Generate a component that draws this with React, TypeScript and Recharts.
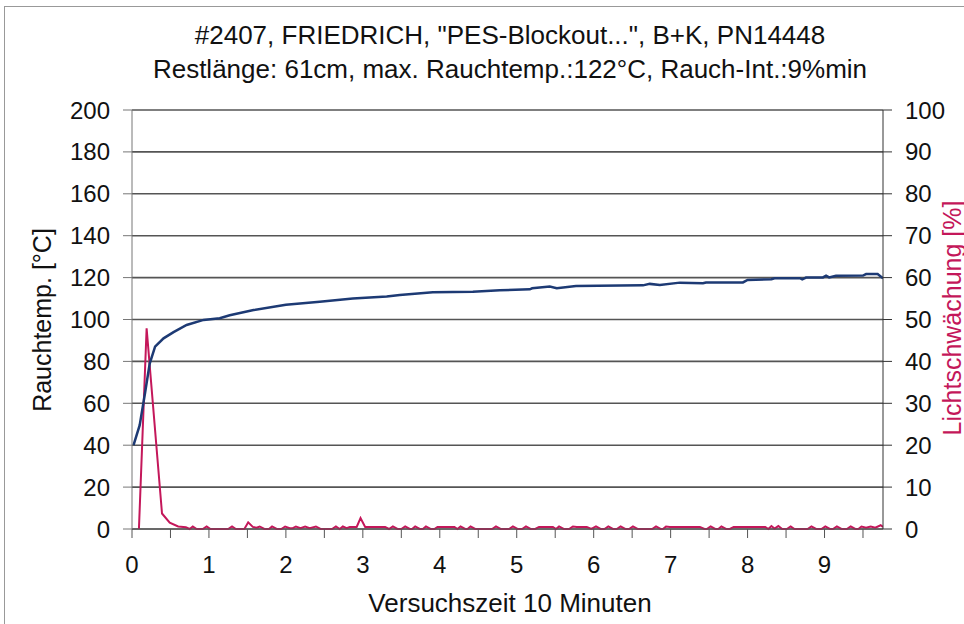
import React from "react";
import { LineChart, Line, CartesianGrid, XAxis, YAxis } from "recharts";

// Rauchtemperatur [°C] über Versuchszeit [min]
const tempTime = [
  0.02, 0.1, 0.17, 0.23, 0.3, 0.41, 0.54, 0.71, 0.93, 1.14, 1.27, 1.58, 2.0,
  2.44, 2.87, 3.31, 3.48, 3.91, 4.43, 4.78, 5.17, 5.2, 5.43, 5.52, 5.77, 6.64,
  6.73, 6.86, 7.12, 7.42, 7.46, 7.94, 8.0, 8.31, 8.35, 8.68, 8.71, 8.76, 8.98,
  9.02, 9.06, 9.15, 9.5, 9.54, 9.69, 9.76,
];
const tempValues = [
  40, 49.6, 65, 79, 87, 91, 94, 97.4, 99.8, 100.6, 102, 104.5, 107, 108.5,
  110, 111, 111.7, 113, 113.3, 114, 114.4, 114.9, 115.7, 114.9, 116, 116.3,
  117, 116.5, 117.6, 117.3, 117.7, 117.7, 118.9, 119.2, 119.7, 119.7, 119.2,
  120, 120.1, 120.9, 120.1, 120.9, 121, 121.7, 121.7, 119.7,
];

// Lichtschwächung [%]
const lightTime = [
  0.09, 0.19, 0.39, 0.49, 0.6, 0.7, 0.75, 0.79, 0.84, 0.92, 0.97, 1.02, 1.25,
  1.3, 1.35, 1.46, 1.51, 1.57, 1.62, 1.66, 1.72, 1.78, 1.82, 1.88, 1.94, 1.99,
  2.05, 2.09, 2.13, 2.19, 2.25, 2.31, 2.39, 2.45, 2.6, 2.65, 2.7, 2.74, 2.79,
  2.83, 2.92, 2.97, 3.03, 3.29, 3.34, 3.39, 3.45, 3.5, 3.55, 3.61, 3.64, 3.68,
  3.74, 3.78, 3.82, 3.88, 3.93, 3.97, 4.19, 4.23, 4.27, 4.33, 4.36, 4.4, 4.46,
  4.68, 4.73, 4.79, 4.9, 4.95, 5.01, 5.07, 5.12, 5.18, 5.24, 5.29, 5.47, 5.51,
  5.55, 5.61, 5.68, 5.73, 5.78, 5.91, 5.97, 6.03, 6.09, 6.14, 6.19, 6.25, 6.3,
  6.35, 6.41, 6.46, 6.51, 6.57, 6.76, 6.81, 6.87, 6.9, 6.94, 6.99, 7.38, 7.44,
  7.47, 7.52, 7.58, 7.62, 7.66, 7.72, 7.77, 7.82, 8.23, 8.27, 8.31, 8.35, 8.4,
  8.45, 8.51, 8.56, 8.61, 8.78, 8.83, 8.89, 8.96, 9.01, 9.07, 9.11, 9.16, 9.22,
  9.29, 9.34, 9.4, 9.44, 9.48, 9.54, 9.6, 9.66, 9.73, 9.76,
];
const lightValues = [
  0, 47.9, 3.7, 1.5, 0.6, 0.4, 0, 0.6, 0, 0, 0.6, 0, 0, 0.6, 0, 0, 1.6, 0.5,
  0.3, 0.6, 0, 0, 0.6, 0, 0, 0.6, 0.2, 0.2, 0.6, 0.2, 0.6, 0.2, 0.6, 0, 0, 0.6,
  0, 0.6, 0.2, 0.5, 0.5, 2.6, 0.5, 0.5, 0, 0.6, 0, 0, 0.6, 0, 0, 0.6, 0, 0,
  0.6, 0, 0, 0.5, 0.5, 0, 0.6, 0, 0, 0.6, 0, 0, 0.6, 0, 0, 0.6, 0, 0, 0.6, 0,
  0, 0.5, 0.5, 0, 0.6, 0, 0, 0.6, 0.5, 0.5, 0, 0.6, 0, 0, 0.6, 0, 0, 0.6, 0,
  0, 0.6, 0, 0, 0.6, 0, 0, 0.6, 0.5, 0.5, 0, 0, 0.6, 0, 0, 0.6, 0, 0, 0.5, 0.5,
  0, 0.7, 0.1, 0.7, 0, 0, 0.6, 0, 0, 0.6, 0, 0, 0.6, 0, 0, 0.6, 0, 0, 0.6, 0,
  0, 0.6, 0.3, 0.6, 0.3, 0.9, 0.5,
];

const xTicks = [
  0, 0.5, 1, 1.5, 2, 2.5, 3, 3.5, 4, 4.5, 5, 5.5, 6, 6.5, 7, 7.5, 8, 8.5, 9,
  9.5,
];
const leftTicks = [0, 20, 40, 60, 80, 100, 120, 140, 160, 180, 200];
const rightTicks = [0, 10, 20, 30, 40, 50, 60, 70, 80, 90, 100];

const tempData = tempTime.map((t, i) => ({ t, temp: tempValues[i] }));
const lightData = lightTime.map((t, i) => ({ t, light: lightValues[i] }));

const font = "'Liberation Sans', Arial, sans-serif";
const tickStyle = { fontSize: 24, fill: "#111", fontFamily: font };
const red = "#c4175a";
const blue = "#1d3a74";

export default function App() {
  return (
    <div
      style={{
        position: "absolute",
        left: 0,
        top: 0,
        width: 964,
        height: 624,
        overflow: "hidden",
        background: "#fff",
        fontFamily: font,
        color: "#111",
      }}
    >
      <div
        style={{
          position: "absolute",
          left: 4,
          top: 6,
          width: 980,
          height: 640,
          border: "1px solid #999",
        }}
      />
      <div
        style={{
          position: "absolute",
          left: 0,
          top: 18,
          width: 1020,
          textAlign: "center",
          fontSize: 26,
          lineHeight: "34px",
        }}
      >
        #2407, FRIEDRICH, "PES-Blockout...", B+K, PN14448
        <br />
        Restlänge: 61cm, max. Rauchtemp.:122°C, Rauch-Int.:9%min
      </div>

      <LineChart
        width={964}
        height={624}
        margin={{ top: 110, right: 0, bottom: 0, left: 0 }}
      >
        <CartesianGrid
          yAxisId="left"
          vertical={false}
          stroke="#555"
          strokeWidth={1.6}
        />
        <XAxis
          type="number"
          dataKey="t"
          domain={[0, 9.76]}
          ticks={xTicks}
          interval={0}
          tickFormatter={(v: number) => (Number.isInteger(v) ? String(v) : "")}
          height={95}
          tickSize={9}
          tickMargin={18}
          tick={tickStyle}
          stroke="#555"
          allowDataOverflow
        />
        <YAxis
          yAxisId="left"
          domain={[0, 200]}
          ticks={leftTicks}
          width={132}
          tickSize={9}
          tickMargin={13}
          tick={tickStyle}
          stroke="#777"
          interval={0}
        />
        <YAxis
          yAxisId="right"
          orientation="right"
          domain={[0, 100]}
          ticks={rightTicks}
          width={81}
          tickSize={9}
          tickMargin={13}
          tick={{ ...tickStyle, textAnchor: "start" }}
          stroke="#333"
          interval={0}
        />
        <Line
          yAxisId="right"
          data={lightData}
          dataKey="light"
          type="linear"
          stroke={red}
          strokeWidth={2}
          dot={false}
          isAnimationActive={false}
        />
        <Line
          yAxisId="left"
          data={tempData}
          dataKey="temp"
          type="linear"
          stroke={blue}
          strokeWidth={2.5}
          dot={false}
          isAnimationActive={false}
        />
      </LineChart>

      <div
        style={{
          position: "absolute",
          left: 0,
          top: 588,
          width: 1020,
          textAlign: "center",
          fontSize: 26,
        }}
      >
        Versuchszeit 10 Minuten
      </div>
      <div
        style={{
          position: "absolute",
          left: 42,
          top: 320,
          transform: "translate(-50%, -50%) rotate(-90deg)",
          whiteSpace: "nowrap",
          fontSize: 25,
        }}
      >
        Rauchtemp. [°C]
      </div>
      <div
        style={{
          position: "absolute",
          left: 952,
          top: 318,
          transform: "translate(-50%, -50%) rotate(-90deg)",
          whiteSpace: "nowrap",
          fontSize: 25,
          color: red,
        }}
      >
        Lichtschwächung [%]
      </div>
    </div>
  );
}
